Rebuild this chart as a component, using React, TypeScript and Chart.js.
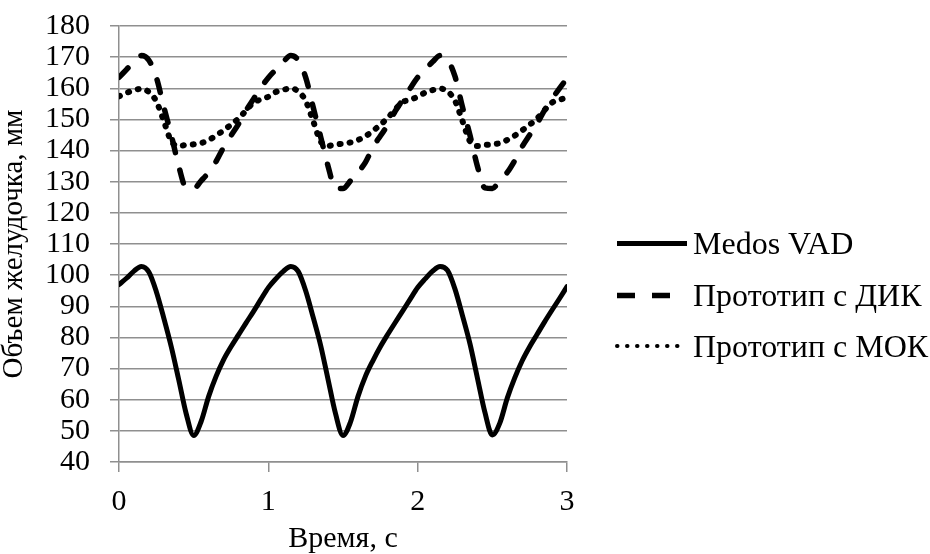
import React, { useEffect, useRef } from "react";
import { Chart, registerables } from "chart.js";

Chart.register(...registerables);

// Time, s
const TIME = [
  0, 0.05, 0.1, 0.15, 0.2, 0.25, 0.3, 0.35, 0.4, 0.45,
  0.5, 0.55, 0.6, 0.65, 0.7, 0.75, 0.8, 0.85, 0.9, 0.95,
  1, 1.05, 1.1, 1.15, 1.2, 1.25, 1.3, 1.35, 1.4, 1.45,
  1.5, 1.55, 1.6, 1.65, 1.7, 1.75, 1.8, 1.85, 1.9, 1.95,
  2, 2.05, 2.1, 2.15, 2.2, 2.25, 2.3, 2.35, 2.4, 2.45,
  2.5, 2.55, 2.6, 2.65, 2.7, 2.75, 2.8, 2.85, 2.9, 2.95,
  3,
];

// Medos VAD
const MEDOS = [
  97, 99, 101.3, 102.8, 101, 94.7, 86.2, 77, 66.4, 55.5,
  48.5, 53, 61, 67.5, 72.8, 77, 80.8, 84.6, 88.3, 92.2,
  96, 98.8, 101.2, 102.8, 101.2, 95, 86.5, 77.5, 66.5, 55.5,
  48.5, 52.8, 61, 67.5, 72.5, 77, 81, 84.8, 88.5, 92.3,
  96, 98.8, 101.3, 102.8, 101.5, 95.5, 87, 78, 67, 56,
  48.7, 52.5, 60.5, 67, 72.5, 77, 81, 85, 88.8, 92.5,
  96.3,
];

// Прототип с ДИК
const DIK = [
  163.5, 166, 168.5, 170.5, 169, 163.5, 154, 145, 135, 128,
  127.8, 130.3, 133, 136.5, 141, 144.8, 148.5, 152.8, 156.5, 160.2,
  163.4, 166, 168.5, 170.5, 169, 163.5, 154, 144.5, 135, 127.8,
  127.8, 130.3, 133, 136.2, 141, 144.7, 148.2, 152.7, 156.3, 160,
  163.5, 166, 168.5, 170.5, 169.2, 163.8, 154, 145, 135, 128,
  127.8, 130.5, 133, 136.8, 141.3, 145, 148.7, 153, 156.6, 160,
  163.2,
];

// Прототип с МОК
const MOK = [
  157.4, 158.5, 159.4, 159.8, 158.8, 155.8, 149.5, 143, 141.5, 141.8,
  142, 142.4, 143.4, 144.8, 146.5, 148.3, 150.3, 152.8, 155.4, 156.4,
  157.3, 158.8, 159.5, 160, 159, 156, 149.5, 143, 141.5, 142,
  142.2, 142.6, 143.4, 144.6, 146.3, 148.3, 150.5, 153.2, 155.6, 156.3,
  157.3, 158.6, 159.4, 159.9, 159, 156, 149.5, 143, 141.5, 141.8,
  142, 142.4, 143.4, 144.8, 146.5, 148.3, 150.3, 153, 155.4, 156.3,
  157,
];

const SERIES_LABELS = ["Medos VAD", "Прототип с ДИК", "Прототип с МОК"];
const X_TITLE = "Время, с";
const Y_TITLE = "Объем желудочка, мм";
const X_MIN = 0;
const X_MAX = 3;
const X_STEP = 1;
const Y_MIN = 40;
const Y_MAX = 180;
const Y_STEP = 10;

const FONT_FAMILY = "'Liberation Serif', 'Times New Roman', serif";
const GRID_COLOR = "#8f8f8f";

const legendPlugin = {
  id: "customLegend",
  afterDraw(chart: any) {
    const ctx = chart.ctx as CanvasRenderingContext2D;
    const area = chart.chartArea;
    const x0 = area.right + 50;
    const rows = [area.top + 217.5, area.top + 269.5, area.top + 320];
    const specs = [
      { len: 70, width: 5, dash: [] as number[], cap: "butt" as CanvasLineCap },
      { len: 55, width: 5.5, dash: [18, 17], cap: "butt" as CanvasLineCap },
      { len: 61, width: 4, dash: [0.5, 9.5], cap: "round" as CanvasLineCap },
    ];
    ctx.save();
    chart.data.datasets.forEach((ds: any, i: number) => {
      const y = rows[i];
      const s = specs[i];
      ctx.beginPath();
      ctx.strokeStyle = "#000";
      ctx.lineWidth = s.width;
      ctx.lineCap = s.cap;
      ctx.setLineDash(s.dash);
      ctx.moveTo(x0, y);
      ctx.lineTo(x0 + s.len, y);
      ctx.stroke();
      ctx.setLineDash([]);
      ctx.fillStyle = "#000";
      ctx.font = `32px ${FONT_FAMILY}`;
      ctx.textBaseline = "alphabetic";
      ctx.textAlign = "left";
      ctx.fillText(ds.label, x0 + 76, y + 10.5);
    });
    ctx.restore();
  },
};

export default function App() {
  const canvasRef = useRef<HTMLCanvasElement | null>(null);

  useEffect(() => {
    if (!canvasRef.current) return;
    const mk = (vals: number[]) => TIME.map((t, i) => ({ x: t, y: vals[i] }));
    const tickFont = { family: FONT_FAMILY, size: 30 };
    const chart = new Chart(canvasRef.current, {
      type: "line",
      data: {
        datasets: [
          {
            label: SERIES_LABELS[0],
            data: mk(MEDOS),
            borderColor: "#000",
            borderWidth: 5,
            borderCapStyle: "round",
            borderJoinStyle: "round",
          },
          {
            label: SERIES_LABELS[1],
            data: mk(DIK),
            borderColor: "#000",
            borderWidth: 5.5,
            borderDash: [13, 18],
            borderCapStyle: "round",
          },
          {
            label: SERIES_LABELS[2],
            data: mk(MOK),
            borderColor: "#000",
            borderWidth: 6,
            borderDash: [1, 9],
            borderCapStyle: "round",
          },
        ],
      },
      options: {
        responsive: false,
        animation: false,
        layout: { padding: { left: 0, right: 363, top: 26, bottom: 0 } },
        plugins: {
          legend: { display: false },
          tooltip: { enabled: false },
        },
        elements: {
          point: { radius: 0 },
          line: { cubicInterpolationMode: "monotone", fill: false },
        },
        scales: {
          x: {
            type: "linear",
            min: X_MIN,
            max: X_MAX,
            ticks: { stepSize: X_STEP, font: tickFont, color: "#000", padding: 12, autoSkip: false },
            grid: {
              drawOnChartArea: false,
              drawTicks: true,
              tickLength: 10,
              color: GRID_COLOR,
              lineWidth: 1.5,
            },
            border: { display: true, color: GRID_COLOR, width: 1.5 },
            title: {
              display: true,
              text: X_TITLE,
              color: "#000",
              font: { family: FONT_FAMILY, size: 30, lineHeight: 1.2 },
              padding: { top: 0, bottom: -3 },
            },
            afterFit: (s: any) => {
              s.height = 92;
              s.paddingLeft = 0;
              s.paddingRight = 0;
            },
          },
          y: {
            type: "linear",
            min: Y_MIN,
            max: Y_MAX,
            ticks: { stepSize: Y_STEP, font: tickFont, color: "#000", padding: 20, autoSkip: false },
            grid: {
              drawTicks: true,
              tickLength: 9,
              color: GRID_COLOR,
              lineWidth: 1.5,
            },
            border: { display: true, color: GRID_COLOR, width: 1.5 },
            title: {
              display: true,
              text: Y_TITLE,
              color: "#000",
              font: { family: FONT_FAMILY, size: 29, lineHeight: 1 },
              padding: 0,
            },
            afterFit: (s: any) => {
              s.width = 119;
              s.paddingTop = 0;
              s.paddingBottom = 0;
            },
          },
        },
      },
      plugins: [legendPlugin],
    });
    return () => chart.destroy();
  }, []);

  return (
    <div style={{ position: "absolute", left: 0, top: 0, width: 930, height: 554, background: "#fff" }}>
      <canvas ref={canvasRef} width={930} height={554} style={{ width: 930, height: 554 }} />
    </div>
  );
}
